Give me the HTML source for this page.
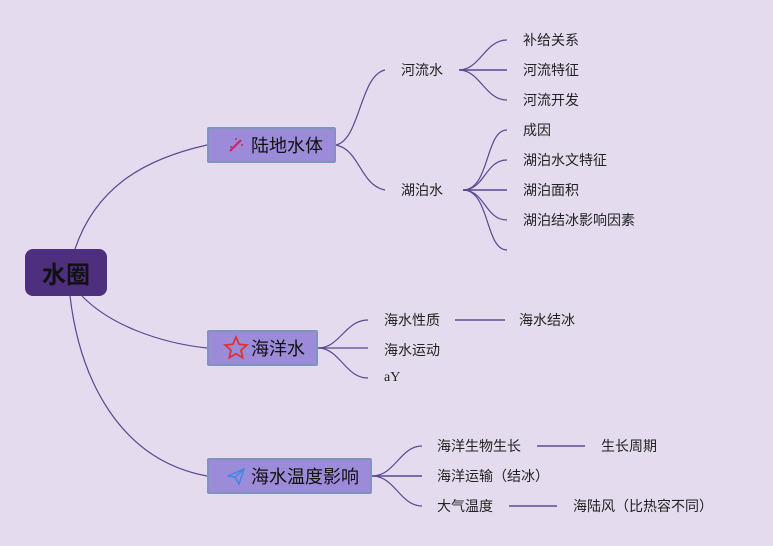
<!DOCTYPE html>
<html><head><meta charset="utf-8"><style>
html,body{margin:0;padding:0}
body{width:773px;height:546px;background:#e4dcee;position:relative;overflow:hidden;font-family:"Liberation Sans","Noto Sans CJK SC",sans-serif;}
.t{position:absolute;font-size:14px;color:#222;line-height:20px;white-space:nowrap}
.b{position:absolute;background:#9b8bd9;border:2px solid #8194bb;box-sizing:border-box;font-size:18px;color:#111;display:flex;align-items:center;border-radius:2px}
svg{position:absolute;left:0;top:0}
</style></head><body>
<svg width="773" height="546" fill="none" stroke="#5a4890" stroke-width="1.2">
<path d="M75 249 C95 190 140 160 207 145"/>
<path d="M82 296 C110 325 160 343 207 348"/>
<path d="M70 296 C80 380 120 460 207 476"/>
<path d="M336 145 C360 140 360 75 385 70"/>
<path d="M336 145 C360 150 360 185 385 190"/>
<g stroke-width="1.6"><path d="M459 70 C475 70 485 70 507 70"/></g>
<path d="M459 70 C480 70 485 40 507 40"/>
<path d="M459 70 C480 70 485 100 507 100"/>
<path d="M463 190 H507" stroke-width="1.6"/>
<path d="M463 190 C490 190 485 130 507 130"/>
<path d="M463 190 C485 190 485 160 507 160"/>
<path d="M463 190 C485 190 485 220 507 220"/>
<path d="M463 190 C490 190 485 250 507 250"/>
<path d="M318 348 C340 348 345 320 368 320"/>
<path d="M318 348 H368"/>
<path d="M318 348 C340 348 345 378 368 378"/>
<path d="M372 476 C395 476 400 446 422 446"/>
<path d="M372 476 H422" stroke-width="1.6"/>
<path d="M372 476 C395 476 400 506 422 506"/>
<g stroke="#8070a8" stroke-width="2"><path d="M455 320 H505"/><path d="M537 446 H585"/><path d="M509 506 H557"/></g>
</svg>
<div style="position:absolute;left:25px;top:249px;width:82px;height:47px;background:#4e2f7e;border-radius:8px;display:flex;align-items:center;justify-content:center;font-size:24px;font-weight:bold;color:#111">水圈</div>
<div class="b" style="left:207px;top:127px;width:129px;height:36px;padding-left:18px">
<svg style="position:relative;margin-right:6px" width="18" height="18" viewBox="0 0 18 18"><path d="M3 15 L14 4" stroke="#d02060" stroke-width="2"/><circle cx="15" cy="9" r="1" fill="#d02060"/><circle cx="9" cy="3" r="1" fill="#d02060"/><circle cx="4" cy="11" r="1" fill="#d02060"/></svg>陆地水体</div>
<div class="b" style="left:207px;top:330px;width:111px;height:36px;padding-left:14px">
<svg style="position:relative;margin-right:2px" width="26" height="26" viewBox="0 0 24 24"><path d="M12 2 L14.9 8.6 L22 9.3 L16.6 14 L18.2 21 L12 17.3 L5.8 21 L7.4 14 L2 9.3 L9.1 8.6 Z" stroke="#e03030" stroke-width="1.6" fill="none"/></svg>海洋水</div>
<div class="b" style="left:207px;top:458px;width:165px;height:36px;padding-left:18px">
<svg style="position:relative;margin-right:6px" width="18" height="18" viewBox="0 0 18 18"><path d="M1 9 L17 2 L12 17 L8 10 Z M8 10 L17 2" stroke="#3a8be0" stroke-width="1.5" fill="none"/></svg>海水温度影响</div>
<div class="t" style="left:401px;top:60px">河流水</div>
<div class="t" style="left:401px;top:180px">湖泊水</div>
<div class="t" style="left:523px;top:30px">补给关系</div>
<div class="t" style="left:523px;top:60px">河流特征</div>
<div class="t" style="left:523px;top:90px">河流开发</div>
<div class="t" style="left:523px;top:120px">成因</div>
<div class="t" style="left:523px;top:150px">湖泊水文特征</div>
<div class="t" style="left:523px;top:180px">湖泊面积</div>
<div class="t" style="left:523px;top:210px">湖泊结冰影响因素</div>
<div class="t" style="left:384px;top:310px">海水性质</div>
<div class="t" style="left:519px;top:310px">海水结冰</div>
<div class="t" style="left:384px;top:340px">海水运动</div>
<div class="t" style="left:384px;top:368px;font-family:'Liberation Serif',serif">aY</div>
<div class="t" style="left:437px;top:436px">海洋生物生长</div>
<div class="t" style="left:601px;top:436px">生长周期</div>
<div class="t" style="left:437px;top:466px">海洋运输（结冰）</div>
<div class="t" style="left:437px;top:496px">大气温度</div>
<div class="t" style="left:573px;top:496px">海陆风（比热容不同）</div>
</body></html>
